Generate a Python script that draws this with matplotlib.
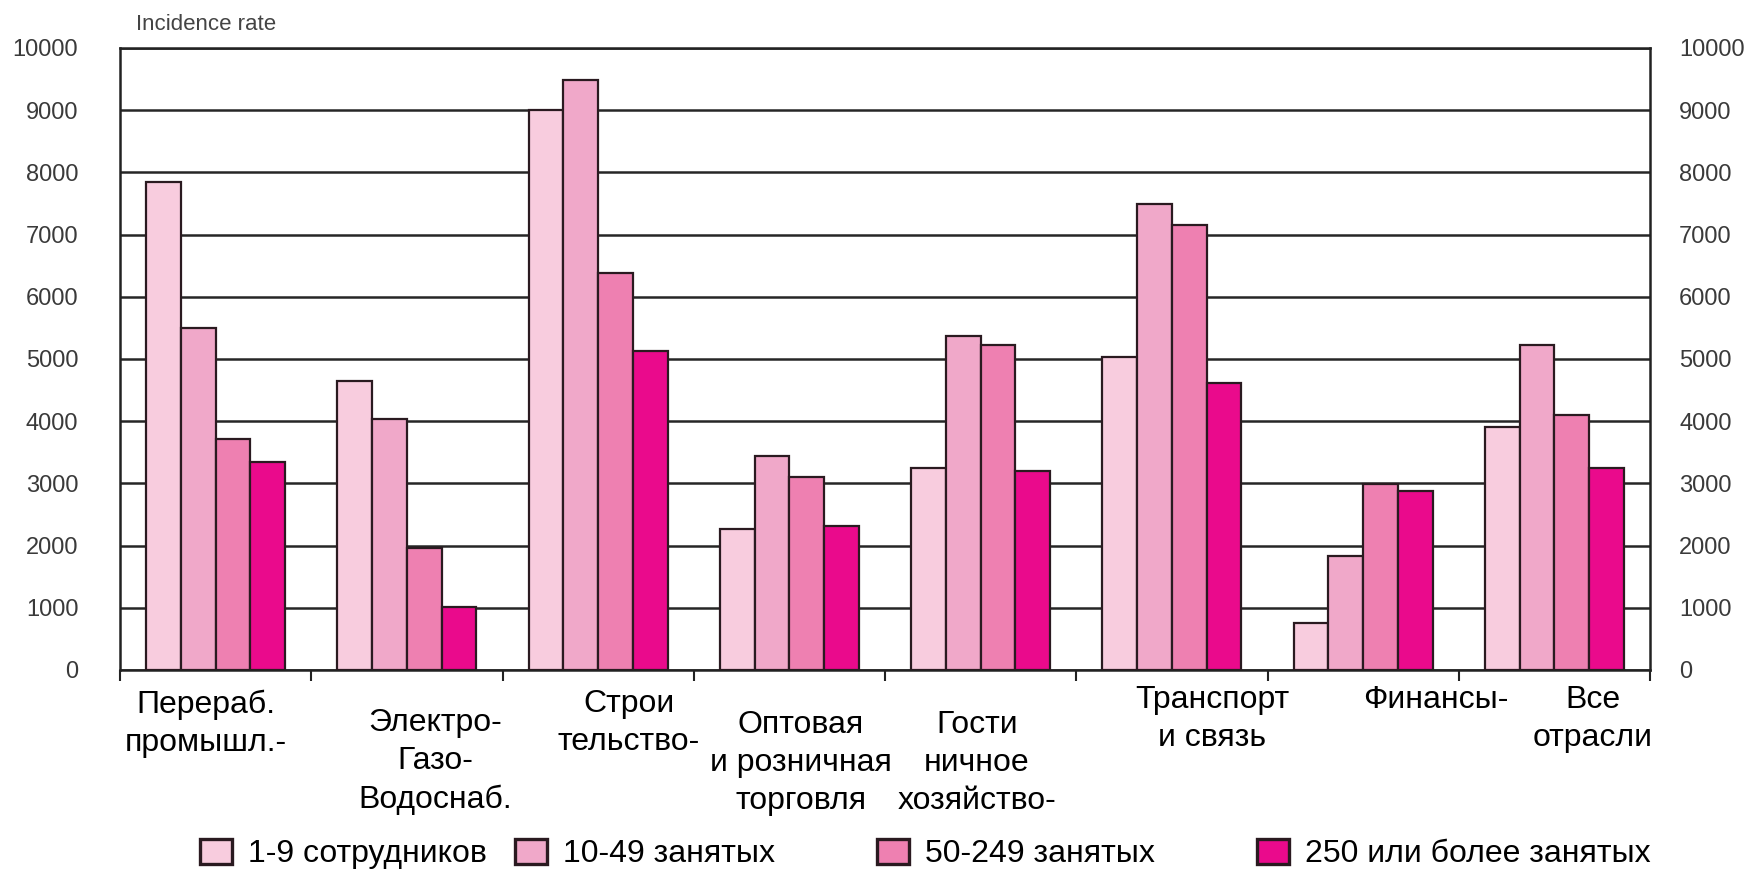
import matplotlib
matplotlib.use("Agg")
import matplotlib.pyplot as plt
from matplotlib.patches import Patch
import numpy as np

plt.rcParams['font.family'] = ['Liberation Sans', 'DejaVu Sans']

# ---- data ----
categories = ["Перераб.\nпромышл.-", "Электро-\nГазо-\nВодоснаб.", "Строи\nтельство-",
              "Оптовая\nи розничная\nторговля", "Гости\nничное\nхозяйство-",
              "Транспорт\nи связь", "Финансы-", "Все\nотрасли"]
series_names = ["1-9 сотрудников", "10-49 занятых", "50-249 занятых", "250 или более занятых"]
s_1_9 = [7850, 4650, 9000, 2260, 3240, 5040, 750, 3910]
s_10_49 = [5500, 4040, 9490, 3440, 5370, 7490, 1840, 5230]
s_50_249 = [3710, 1960, 6380, 3110, 5230, 7160, 2990, 4100]
s_250 = [3340, 1020, 5130, 2310, 3200, 4610, 2880, 3240]
yticks = [0, 1000, 2000, 3000, 4000, 5000, 6000, 7000, 8000, 9000, 10000]
y_title = "Incidence rate"

# ---- styles / layout ----
colors = ["#F8CCDE", "#F0A8C9", "#EE80B1", "#EA0A8C"]
edge = "#2a1a20"
label_dx = [-0.05, 0.15, 0.16, 0.06, -0.02, 0.21, 0.38, 0.20]
label_dy = [20, 38, 19, 40, 40, 15, 15, 15]
legend_x = [200, 515, 877, 1257]

W, H = 1752, 874
fig = plt.figure(figsize=(W / 100, H / 100), dpi=100)
ax = fig.add_axes([120 / W, 1 - 670 / H, (1650 - 120) / W, (670 - 48) / H])

series = [s_1_9, s_10_49, s_50_249, s_250]
n = len(categories)
x = np.arange(n)
bw = 0.182
for k, vals in enumerate(series):
    ax.bar(x + (k - 1.5) * bw, vals, width=bw, color=colors[k], edgecolor=edge,
           linewidth=1.6, zorder=3)

ax.set_xlim(-0.5, n - 0.5)
ax.set_ylim(0, 10000)
ax.set_yticks(yticks)
ax.set_yticklabels([str(v) for v in yticks])
ax.grid(axis='y', color='#262626', linewidth=1.8, zorder=0)
ax.set_axisbelow(True)
for s in ax.spines.values():
    s.set_color('#222222')
    s.set_linewidth(1.8)
ax.tick_params(axis='y', length=0, pad=30, labelsize=17, labelcolor='#3a3a3a')
ax.set_xticks(np.arange(-0.5, n, 1.0))
ax.set_xticklabels([])
ax.tick_params(axis='x', direction='out', length=8, width=1.5, color='#222222')

ax2 = ax.twinx()
ax2.set_ylim(0, 10000)
ax2.set_yticks(yticks)
ax2.set_yticklabels([str(v) for v in yticks])
ax2.tick_params(axis='y', length=0, pad=21, labelsize=17, labelcolor='#3a3a3a')
for s in ax2.spines.values():
    s.set_visible(False)

for i, lab in enumerate(categories):
    ax.annotate(lab, xy=(i + label_dx[i], 0), xycoords=('data', 'axes fraction'),
                xytext=(0, -label_dy[i]), textcoords='offset pixels',
                ha='center', va='top', fontsize=23, linespacing=1.35, color='#000000')

fig.text(136 / W, 1 - 25 / H, y_title, fontsize=16, color='#444444', va='center', ha='left')

for k, name in enumerate(series_names):
    h = Patch(facecolor=colors[k], edgecolor=edge, linewidth=2.4)
    fig.legend(handles=[h], labels=[name], loc='center left',
               bbox_to_anchor=(legend_x[k] / W, 1 - 854 / H), frameon=False,
               fontsize=23, handlelength=1.0, handleheight=0.85,
               handletextpad=0.5, borderpad=0, borderaxespad=0)

fig.savefig("out.png", dpi=100)
